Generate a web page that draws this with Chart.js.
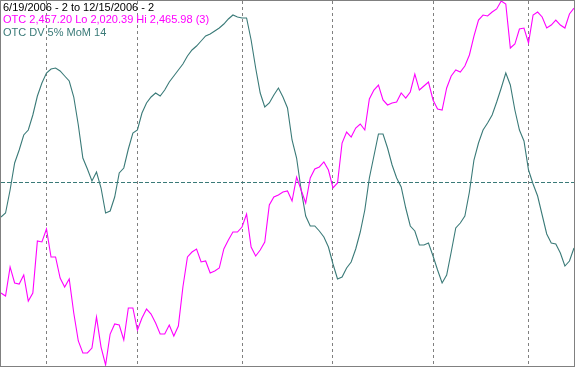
<!DOCTYPE html>
<html><head><meta charset="utf-8">
<script src="https://cdn.jsdelivr.net/npm/chart.js@4"></script>
<style>
html,body{margin:0;padding:0;background:#fff;}
#wrap{position:relative;width:575px;height:367px;box-sizing:border-box;border:1px solid #808080;background:#fff;overflow:hidden;}
#wrap canvas{display:block;}
.lbl{position:absolute;left:2px;font-family:"Liberation Sans",Arial,sans-serif;font-size:11px;line-height:13px;white-space:nowrap;}
</style></head><body>
<div id="wrap"><canvas id="c" width="573" height="365"></canvas>
<div class="lbl" style="top:0px;color:#000000">6/19/2006 - 2 to 12/15/2006 - 2</div>
<div class="lbl" style="top:12px;color:#ff00ff">OTC 2,457.20 Lo 2,020.39 Hi 2,465.98 (3)</div>
<div class="lbl" style="top:25px;color:#3a7a78">OTC DV 5% MoM 14</div>
</div>
<script>
const dates = [
"6/19/2006","6/20/2006","6/21/2006","6/22/2006","6/23/2006","6/26/2006","6/27/2006","6/28/2006","6/29/2006","6/30/2006",
"7/3/2006","7/5/2006","7/6/2006","7/7/2006","7/10/2006","7/11/2006","7/12/2006","7/13/2006","7/14/2006","7/17/2006",
"7/18/2006","7/19/2006","7/20/2006","7/21/2006","7/24/2006","7/25/2006","7/26/2006","7/27/2006","7/28/2006","7/31/2006",
"8/1/2006","8/2/2006","8/3/2006","8/4/2006","8/7/2006","8/8/2006","8/9/2006","8/10/2006","8/11/2006","8/14/2006",
"8/15/2006","8/16/2006","8/17/2006","8/18/2006","8/21/2006","8/22/2006","8/23/2006","8/24/2006","8/25/2006","8/28/2006",
"8/29/2006","8/30/2006","8/31/2006",
"9/1/2006","9/5/2006","9/6/2006","9/7/2006","9/8/2006","9/11/2006","9/12/2006","9/13/2006","9/14/2006","9/15/2006",
"9/18/2006","9/19/2006","9/20/2006","9/21/2006","9/22/2006","9/25/2006","9/26/2006","9/27/2006","9/28/2006","9/29/2006",
"10/2/2006","10/3/2006","10/4/2006","10/5/2006","10/6/2006","10/9/2006","10/10/2006","10/11/2006","10/12/2006","10/13/2006",
"10/16/2006","10/17/2006","10/18/2006","10/19/2006","10/20/2006","10/23/2006","10/24/2006","10/25/2006","10/26/2006","10/27/2006",
"10/30/2006","10/31/2006",
"11/1/2006","11/2/2006","11/3/2006","11/6/2006","11/7/2006","11/8/2006","11/9/2006","11/10/2006","11/13/2006","11/14/2006",
"11/15/2006","11/16/2006","11/17/2006","11/20/2006","11/21/2006","11/22/2006","11/24/2006","11/27/2006","11/28/2006","11/29/2006",
"11/30/2006",
"12/1/2006","12/4/2006","12/5/2006","12/6/2006","12/7/2006","12/8/2006","12/11/2006","12/12/2006","12/13/2006","12/14/2006",
"12/15/2006"
];

// OTC (Nasdaq composite) close
const otcClose = [
2108.5,2104.9,2140.4,2120.8,2119.5,2130.6,2098.7,2108.5,2172.2,2171.0,
2186.9,2152.6,2152.6,2126.9,2115.9,2125.7,2084.0,2049.8,2035.1,2035.1,
2041.2,2079.1,2042.4,2020.4,2058.3,2070.6,2069.4,2051.0,2090.2,2090.2,
2063.2,2077.9,2088.9,2082.8,2071.8,2058.3,2058.3,2069.4,2055.9,2068.1,
2115.9,2152.6,2158.7,2162.4,2146.5,2147.7,2133.0,2135.5,2139.1,2162.4,
2173.4,2183.2,2183.2,2189.3,2205.2,2164.8,2153.8,2161.2,2171.0,2216.2,
2226.0,2228.5,2232.2,2233.4,2221.1,2250.5,2234.6,2218.7,2249.3,2260.3,
2262.8,2268.9,2259.1,2237.1,2243.2,2292.1,2305.6,2299.5,2310.5,2315.4,
2308.1,2346.0,2357.0,2363.1,2344.8,2338.7,2341.1,2342.3,2353.4,2347.2,
2354.6,2376.6,2357.0,2361.9,2366.8,2344.8,2333.8,2332.5,2359.5,2374.2,
2381.5,2379.1,2386.4,2399.9,2423.1,2442.7,2448.8,2447.6,2452.5,2456.2,
2465.98,2462.3,2408.4,2413.3,2431.7,2432.9,2414.6,2448.8,2452.5,2446.4,
2432.9,2436.6,2442.7,2436.6,2432.9,2450.1,2457.2
];

// OTC DV 5% MoM 14
const momentum = [
-1.70,-1.50,-0.35,1.00,1.65,2.40,2.65,3.40,4.35,5.00,
5.50,5.70,5.75,5.60,5.35,5.10,4.30,2.90,1.25,0.70,
0.10,0.55,-0.25,-1.50,-1.40,-0.70,0.50,0.75,1.70,2.50,
2.65,3.50,4.00,4.30,4.50,4.35,4.65,5.05,5.35,5.65,
5.95,6.35,6.65,6.85,7.10,7.35,7.45,7.60,7.75,7.95,
8.20,8.40,8.30,8.25,8.25,7.15,5.75,4.50,3.80,4.00,
4.40,4.75,4.30,3.75,2.15,1.25,-0.35,-1.65,-2.15,-2.15,
-2.40,-2.70,-3.20,-4.05,-4.80,-4.70,-4.25,-3.95,-3.30,-2.45,
-1.35,0.25,1.35,2.45,2.45,1.75,0.90,0.25,-0.20,-1.25,
-2.15,-2.40,-3.10,-3.10,-3.00,-3.65,-4.35,-5.00,-4.60,-3.45,
-2.25,-2.00,-1.65,-0.45,1.15,2.00,2.65,3.00,3.40,4.05,
4.75,5.50,4.90,3.65,2.65,2.10,0.65,-0.05,-0.65,-1.60,
-2.55,-3.00,-3.05,-3.50,-4.15,-3.90,-3.25
];

const gridDates = ["7/3/2006","8/1/2006","9/1/2006","10/2/2006","11/1/2006","12/1/2006"];
const momentumRefLine = [0];

new Chart(document.getElementById('c'), {
  type: 'line',
  data: {
    labels: dates,
    datasets: [
      { label: 'OTC', data: otcClose, yAxisID: 'yP', borderColor: '#ff00ff', borderWidth: 1.1, pointRadius: 0, tension: 0, fill: false },
      { label: 'OTC DV 5% MoM 14', data: momentum, yAxisID: 'yM', borderColor: '#3a7a78', borderWidth: 1.1, pointRadius: 0, tension: 0, fill: false }
    ]
  },
  options: {
    responsive: false,
    devicePixelRatio: 1,
    animation: false,
    layout: { padding: 0 },
    plugins: { legend: { display: false }, tooltip: { enabled: false }, title: { display: false } },
    scales: {
      x: {
        type: 'category',
        offset: false,
        ticks: { display: false },
        border: { display: false, dash: [3, 3] },
        grid: { color: '#808080', lineWidth: 1, drawTicks: false, offset: false },
        afterBuildTicks: (s) => { s.ticks = gridDates.map(d => ({ value: dates.indexOf(d) })); }
      },
      yM: {
        position: 'left',
        min: -9.15, max: 9.1,
        ticks: { display: false },
        border: { display: false, dash: [4, 2] },
        grid: { color: '#3a7a78', lineWidth: 1, drawTicks: false },
        afterBuildTicks: (s) => { s.ticks = momentumRefLine.map(v => ({ value: v })); }
      },
      yP: {
        display: false,
        position: 'right',
        min: 2019.17, max: 2465.98
      }
    }
  }
});
</script>
</body></html>
